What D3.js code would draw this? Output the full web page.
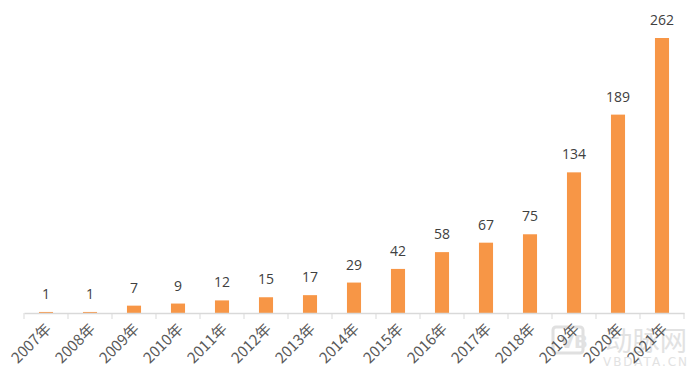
<!DOCTYPE html>
<html><head><meta charset="utf-8">
<script src="https://cdn.jsdelivr.net/npm/d3@7"></script>
<style>body{margin:0;background:#fff;} svg{display:block;}</style>
</head><body>
<svg id="c" width="700" height="382"></svg>
<script>
const categories = ["2007年","2008年","2009年","2010年","2011年","2012年","2013年","2014年","2015年","2016年","2017年","2018年","2019年","2020年","2021年"];
const values = [1,1,7,9,12,15,17,29,42,58,67,75,134,189,262];

const svg = d3.select("#c");

// faint watermark
const wm = svg.append("g").attr("fill", "#e2e2e2");
wm.append("rect").attr("x", 553).attr("y", 327).attr("width", 30).attr("height", 26).attr("rx", 3)
  .attr("fill", "none").attr("stroke", "#e0e0e0").attr("stroke-width", 3);
wm.append("text").attr("x", 560).attr("y", 348).attr("font-family", "'DejaVu Sans', sans-serif")
  .attr("font-weight", "bold").attr("font-size", 18).text("VB");
wm.append("text").attr("x", 605).attr("y", 351).attr("font-family", "'Noto Sans CJK SC', sans-serif")
  .attr("font-size", 27).attr("textLength", 82).attr("lengthAdjust", "spacingAndGlyphs").text("动脉网");
wm.append("text").attr("x", 603).attr("y", 366).attr("font-family", "'DejaVu Sans', sans-serif")
  .attr("font-size", 12).attr("textLength", 84).attr("lengthAdjust", "spacing").text("VBDATA.CN");

const x = d3.scaleBand().domain(categories).range([24, 684]).paddingInner(0.68).paddingOuter(0.34);
const y = d3.scaleLinear().domain([0, 262]).range([313, 38]);

svg.append("g").selectAll("rect").data(values).join("rect")
  .attr("x", (d,i) => x(categories[i]))
  .attr("width", x.bandwidth())
  .attr("y", d => y(d))
  .attr("height", d => y(0) - y(d))
  .attr("fill", "#f79646");

svg.append("g").selectAll("text").data(values).join("text")
  .attr("x", (d,i) => x(categories[i]) + x.bandwidth()/2)
  .attr("y", d => y(d) - 13)
  .attr("text-anchor", "middle")
  .attr("font-family", "'Open Sans', 'Noto Sans', sans-serif")
  .attr("font-size", 14)
  .attr("fill", "#404040")
  .text(d => d);

// axis
const xb = d3.scaleBand().domain(categories).range([24, 684]);
const ax = svg.append("g").attr("transform", "translate(0,313)")
  .call(d3.axisBottom(xb).tickSize(0).tickFormat(""));
ax.select(".domain").attr("stroke", "#d9d9d9").attr("stroke-width", 1.5);
const bounds = categories.map(c => xb(c)).concat([684]);
ax.selectAll(".bt").data(bounds).join("line").attr("class","bt")
  .attr("x1", d => d).attr("x2", d => d).attr("y1", 0).attr("y2", 6)
  .attr("stroke", "#d9d9d9");

svg.append("g").selectAll("text").data(categories).join("text")
  .attr("transform", d => `translate(${xb(d) + xb.bandwidth()/2 + 6},${330}) rotate(-45)`)
  .attr("text-anchor", "end")
  .attr("font-family", "'Noto Sans CJK SC', sans-serif")
  .attr("font-size", 15)
  .attr("fill", "#595959")
  .text(d => d);
</script>
</body></html>
